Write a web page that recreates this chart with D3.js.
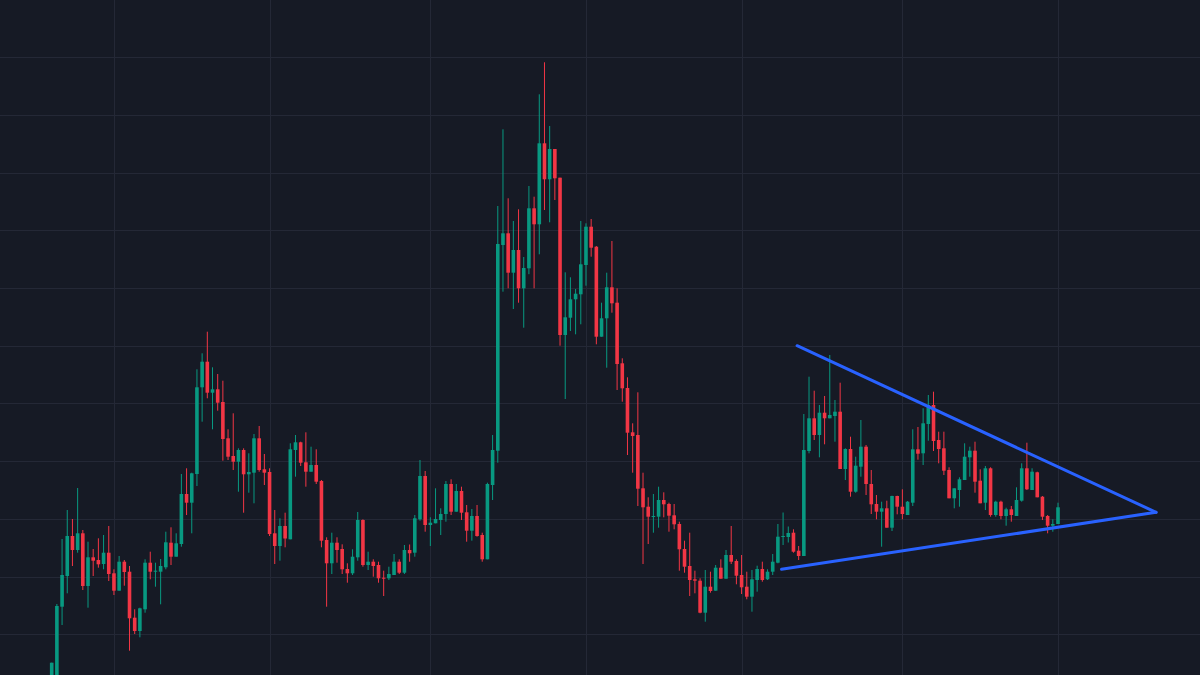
<!DOCTYPE html>
<html>
<head>
<meta charset="utf-8">
<script src="https://cdn.jsdelivr.net/npm/d3@7/dist/d3.min.js"></script>
<style>
  html, body { margin: 0; padding: 0; background: #161a25; overflow: hidden; }
  svg { display: block; }
</style>
</head>
<body>
<svg id="chart" width="1200" height="675"></svg>
<script>
// ---- Data (price units) ----
const open = [
  -25, -5, 68.3, 99, 139, 125, 141.7, 89, 117.7, 115,
  111, 122.3, 101.7, 84.3, 113.3, 103.3, 57.3, 44, 65.7, 112.3,
  103.3, 103.3, 107.7, 132.3, 118.3, 131, 181, 172.3, 201, 287.7,
  313.3, 282.3, 285.7, 273, 236.7, 219, 213.3, 225, 200.7, 202.3,
  236.7, 205.7, 203, 141.7, 129, 149, 135.7, 225, 232.7, 212.7,
  203.3, 210, 194, 135, 111.7, 132.3, 126, 106, 101.7, 117.7,
  155, 110, 113.3, 110, 97.3, 96.7, 100, 113.3, 102.3, 125,
  122.3, 155.7, 199, 150, 151.7, 155, 161, 191, 163.3, 184,
  162.7, 144.3, 159, 140, 115.7, 190, 224.3, 430, 441.7, 402.3,
  425, 386.7, 406.7, 466.7, 450.7, 531.7, 495.7, 526, 497.3, 340,
  357.3, 375.7, 380.7, 410, 448.3, 428.3, 338.3, 356.7, 387.7, 372.3,
  311.7, 287, 242.7, 240, 186.7, 168.3, 158, 158.3, 175, 171,
  159.7, 151, 126, 109, 95.7, 94.3, 62.3, 88.3, 84.3, 107.3,
  96.3, 120, 114, 100, 88.3, 78.3, 95, 106, 95.7, 103.3,
  112.3, 138, 138, 142.3, 124.3, 119, 224, 256.7, 240, 262.3,
  256.7, 259, 263.3, 206, 226, 183.3, 208.3, 228.3, 191, 171,
  163.3, 166.7, 147.3, 179, 168.3, 160, 172.3, 225.7, 221.7, 251,
  270, 235, 226.7, 205, 176.7, 185, 195, 217.7, 224.3, 194.3,
  172.3, 206.7, 160, 173.3, 159, 165.7, 159, 174.3, 206.7, 185,
  202.7, 178.3, 159, 149.3, 151
];
const high = [
  12.3, 71, 136, 165, 156, 187, 145, 133.3, 126, 136.7,
  140, 149, 105.7, 119, 115, 109, 65.7, 67.3, 115.7, 123.3,
  112.3, 116, 143.3, 147.7, 141.7, 201, 206.7, 202.3, 305.7, 321.7,
  343.3, 307.7, 301, 294.3, 245.7, 261.7, 226.7, 226.7, 221.7, 241,
  249, 221, 206.7, 165, 156.7, 162.3, 231.7, 240, 233.3, 242.7,
  228.3, 225.7, 195, 137.7, 142.3, 137.7, 130.7, 111.7, 125.7, 163,
  155.7, 123.3, 115.7, 113.3, 104.3, 108.3, 121, 115.7, 130, 130.5,
  160, 215, 204, 157.7, 186.7, 166.7, 194, 195.7, 191, 188.3,
  170, 166, 170, 142.3, 192.3, 240, 469, 545.7, 476.7, 454,
  465.7, 418, 489, 478.3, 580.7, 612.7, 549, 526, 497.3, 402.7,
  397.7, 386, 454, 451.7, 456, 429, 372.3, 402.3, 434, 386.7,
  316.7, 297.7, 251.7, 282.7, 202.3, 177.7, 181, 188.3, 182.7, 172.3,
  171, 153.3, 134.3, 142.3, 104.3, 96.7, 105, 103.3, 110, 115.7,
  125, 149, 115.7, 120, 103.3, 105, 109.3, 113.3, 105.7, 121,
  151, 162.5, 148.5, 145.7, 129, 261, 298.3, 284.3, 270, 279,
  320, 275, 292.3, 226.7, 238.3, 218.3, 255, 230, 205, 180,
  173.3, 174.3, 179.3, 179.3, 185.7, 174, 245.7, 248, 266.7, 280,
  283.3, 243.3, 243.3, 207.7, 186.7, 197.7, 231.7, 228.3, 233.3, 205.7,
  209, 207.7, 174.3, 174.3, 167.3, 169, 187.7, 211.7, 232.3, 206.7,
  203.3, 179, 160, 155.7, 172.3
];
const low = [
  -30, -15, 50, 81.7, 109, 122.3, 85, 67.3, 99, 107.3,
  105.7, 94, 80, 84.3, 89.3, 24.3, 41, 37.7, 62.3, 95.7,
  88.3, 70.7, 105.7, 110, 118.3, 128.3, 160, 141.7, 189, 253.3,
  276.7, 245.7, 264.3, 214.3, 215, 205, 183.3, 162.3, 182.3, 171.7,
  203.3, 190, 139, 111, 114.3, 127.7, 135.7, 198.3, 209, 188.3,
  203.3, 191, 127.7, 68.3, 101, 112.3, 101, 92.3, 100, 114.3,
  108.3, 105, 98.3, 92.3, 79, 95, 100, 101, 101, 113.3,
  118.3, 154.3, 143.3, 129, 151.7, 140, 153.3, 160, 163.3, 155,
  133.3, 134.3, 138.3, 113.3, 115.7, 175, 212.3, 383.3, 386.7, 366,
  372.3, 347.3, 400.8, 386.7, 420.7, 465, 452.7, 475, 329.3, 276,
  344, 340.7, 350.7, 389.3, 418.3, 330.7, 338.3, 307.3, 362.3, 285,
  273.3, 220, 202.3, 169, 111, 131, 142.3, 147.3, 157.7, 143.3,
  145.7, 104.3, 102.3, 79, 81.7, 61.7, 53.3, 82.3, 84.3, 96.3,
  96.3, 111, 90.7, 81, 75.7, 63.3, 83.3, 93.3, 95, 100,
  111.7, 130, 132.5, 122.3, 115, 119, 221.7, 235, 217.7, 230.7,
  256.7, 233.3, 206, 195, 178.3, 182.3, 198.3, 180, 161, 155.7,
  128.3, 147.3, 144, 160.7, 155.7, 160, 169, 215.3, 210, 234.3,
  224, 211.7, 200, 176.7, 166.7, 168.3, 195, 198.3, 182.3, 171.7,
  165, 158.3, 158.3, 155.7, 149.3, 153.3, 159, 173.3, 185, 185,
  177.7, 155, 141.7, 143.3, 151
];
const close = [
  12.3, 69, 100, 139, 125, 141.7, 89, 117.7, 114.3, 110.7,
  122.3, 101, 84.3, 113.3, 103, 56.7, 44, 66.7, 112.3, 103.3,
  104.3, 109, 132.7, 118.3, 131.7, 181, 172.3, 201.7, 287.7, 313.3,
  282.3, 285.7, 272.3, 236, 218.3, 213.3, 225, 200.7, 203, 236.7,
  205, 202.3, 141, 129, 149, 136.5, 225.7, 232.7, 212.3, 203.3,
  210, 193.3, 134.3, 111.7, 132.3, 125, 105.7, 101.7, 118.3, 155,
  110, 113.3, 109, 96.7, 96.3, 101, 113.3, 102.3, 125, 121.7,
  156.7, 199, 150, 152.3, 156, 161, 191, 163.3, 184, 162.3,
  144.3, 159, 139, 115.7, 191, 225, 431, 441.7, 402.3, 425,
  386.7, 407, 466.7, 450.7, 531.7, 495.7, 526, 496.7, 340, 357.7,
  375.7, 381.3, 410.7, 448.3, 427.3, 338.3, 356.7, 387.7, 371.7, 311,
  286.7, 242.3, 239, 186.3, 167.7, 158.3, 159, 175, 170.7, 159.3,
  150.7, 125.7, 108.3, 95, 94.3, 62.3, 88.3, 84, 107.3, 96.3,
  120, 113.3, 99.3, 87.7, 78.3, 95.7, 106, 95, 103.3, 113.3,
  138.3, 139, 142, 123.3, 119, 225, 256.7, 240, 262.3, 256.7,
  260, 263.3, 206, 226, 183.3, 209.3, 228.3, 191, 170.7, 163.3,
  166.7, 147.3, 179, 168.3, 161, 173.3, 225.7, 221.3, 251.7, 270,
  234, 226, 204.3, 176.7, 186.7, 195.7, 218.3, 224.3, 193.3, 171.7,
  206.7, 160, 173.3, 159, 165.7, 160, 175, 206.7, 185.7, 203.3,
  177.7, 158.3, 149.3, 151, 167.7
];
// bar index (one per session)
const categories = d3.range(open.length);
// vertical grid: bar indices of period starts
const timeTicks = [12, 42, 73, 103, 133, 164, 194];
// horizontal grid: price levels
const priceTicks = [40.7, 98.4, 156.1, 213.9, 271.6, 329.3, 387.1, 444.8, 502.5, 560.2, 618];
// symmetrical triangle drawing (bar index, price)
const upperLine = [{i: 143.7, p: 329.3}, {i: 212.9, p: 162.7}];
const lowerLine = [{i: 140.7, p: 105.7}, {i: 212.9, p: 162.7}];

// ---- Chart ----
const W = 1200, H = 675;
const colors = { bg: "#161a25", grid: "#242836", up: "#089981", down: "#f23645", line: "#2962ff" };
const svg = d3.select("#chart");
svg.append("rect").attr("width", W).attr("height", H).attr("fill", colors.bg);

const x = d3.scaleLinear().domain([0, 194]).range([51.7, 1058]);
const y = d3.scaleLinear().domain([0, 675]).range([H, 0]);

const grid = svg.append("g");
grid.selectAll("line.v").data(timeTicks).join("line")
  .attr("class", "v")
  .attr("x1", d => Math.round(x(d)) + 0.5).attr("x2", d => Math.round(x(d)) + 0.5)
  .attr("y1", 0).attr("y2", H)
  .attr("stroke", colors.grid).attr("stroke-width", 1);
grid.selectAll("line.h").data(priceTicks).join("line")
  .attr("class", "h")
  .attr("x1", 0).attr("x2", W)
  .attr("y1", d => Math.round(y(d)) + 0.5).attr("y2", d => Math.round(y(d)) + 0.5)
  .attr("stroke", colors.grid).attr("stroke-width", 1);

const bars = categories.map(i => ({ i, o: open[i], h: high[i], l: low[i], c: close[i] }));
const bw = 3.6;
const g = svg.append("g");
g.selectAll("line.wick").data(bars).join("line")
  .attr("class", "wick")
  .attr("x1", d => x(d.i)).attr("x2", d => x(d.i))
  .attr("y1", d => y(d.h)).attr("y2", d => y(d.l))
  .attr("stroke", d => d.c >= d.o ? colors.up : colors.down)
  .attr("stroke-width", 1);
g.selectAll("rect.body").data(bars).join("rect")
  .attr("class", "body")
  .attr("x", d => x(d.i) - bw / 2)
  .attr("width", bw)
  .attr("y", d => y(Math.max(d.o, d.c)))
  .attr("height", d => Math.max(1, Math.abs(y(d.o) - y(d.c))))
  .attr("fill", d => d.c >= d.o ? colors.up : colors.down);

const lineGen = d3.line().x(d => x(d.i)).y(d => y(d.p));
[upperLine, lowerLine].forEach(pts => {
  svg.append("path").datum(pts)
    .attr("d", lineGen)
    .attr("fill", "none")
    .attr("stroke", colors.line)
    .attr("stroke-width", 3)
    .attr("stroke-linecap", "round");
});
</script>
</body>
</html>
